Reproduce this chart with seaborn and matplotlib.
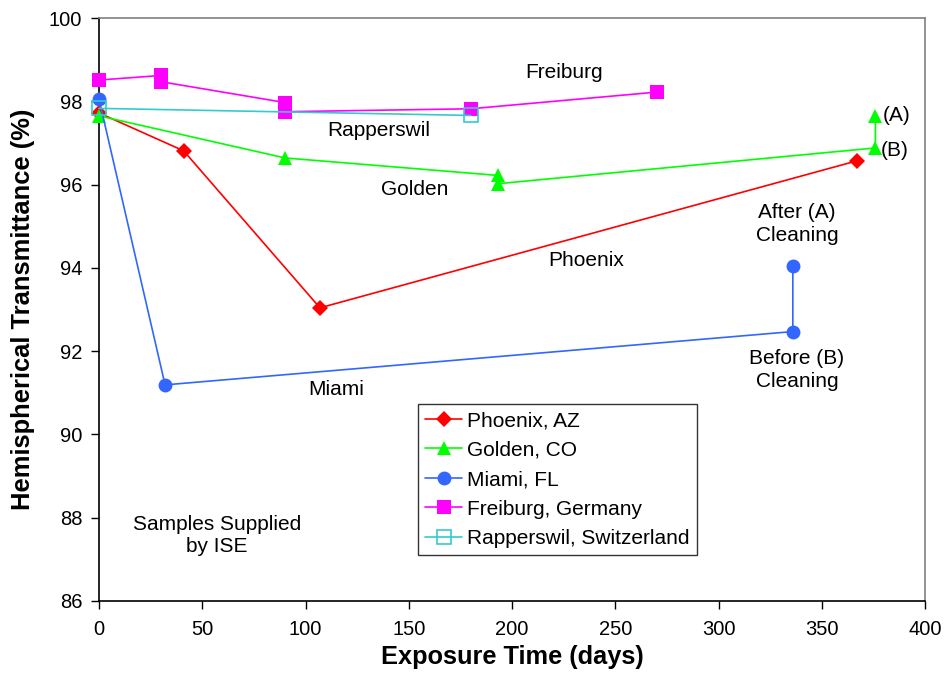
import matplotlib
matplotlib.use("Agg")
import matplotlib.pyplot as plt
import seaborn as sns
import pandas as pd

# ---- data ----
phoenix_days = [0, 41, 107, 367]
phoenix_vals = [97.72, 96.81, 93.04, 96.57]

golden_days = [0, 90, 193, 193, 376, 376]
golden_vals = [97.65, 96.64, 96.22, 96.02, 96.88, 97.65]

miami_days = [0, 32, 336, 336]
miami_vals = [98.05, 91.19, 92.47, 94.05]

freiburg_days = [0, 30, 30, 90, 90, 180, 270]
freiburg_vals = [98.51, 98.62, 98.47, 97.97, 97.75, 97.82, 98.22]

rapperswil_days = [0, 180]
rapperswil_vals = [97.83, 97.66]

series_names = ["Phoenix, AZ", "Golden, CO", "Miami, FL",
                "Freiburg, Germany", "Rapperswil, Switzerland"]

sns.set_theme(style="white")
plt.rcParams['font.family'] = ['Liberation Sans', 'DejaVu Sans']
plt.rcParams['text.color'] = 'black'
plt.rcParams['axes.labelcolor'] = 'black'
plt.rcParams['xtick.color'] = 'black'
plt.rcParams['ytick.color'] = 'black'

fig = plt.figure(figsize=(9.5, 6.81), dpi=100)
ax = fig.add_axes([99/950, 1-601/681, (925-99)/950, (601-18)/681])

styles = [
    (phoenix_days, phoenix_vals, "#FF0000", "D", 8.5, "#FF0000"),
    (golden_days, golden_vals, "#00FF00", "^", 10, "#00FF00"),
    (miami_days, miami_vals, "#3366FF", "o", 10, "#3366FF"),
    (freiburg_days, freiburg_vals, "#FF00FF", "s", 9.5, "#FF00FF"),
    (rapperswil_days, rapperswil_vals, "#33CCCC", "s", 9.5, "none"),
]

for name, (d, v, c, m, ms, fc) in zip(series_names, styles):
    df = pd.DataFrame({"days": d, "val": v})
    sns.lineplot(data=df, x="days", y="val", ax=ax, sort=False, estimator=None,
                 color=c, marker=m, markersize=ms, markerfacecolor=fc,
                 markeredgecolor=c, markeredgewidth=1.2 if fc == "none" else 0,
                 linewidth=1.2, label=name, clip_on=False, zorder=3)

ax.set_xlim(0, 400)
ax.set_ylim(86, 100)
ax.set_xticks(range(0, 401, 50))
ax.set_yticks(range(86, 101, 2))
ax.tick_params(axis='both', which='both', direction='out', length=6, width=1,
               color='black', labelcolor='black', labelsize=14.5, pad=6,
               bottom=True, left=True)
ax.tick_params(axis='x', pad=8)
for s in ['left', 'bottom']:
    ax.spines[s].set_color('black')
    ax.spines[s].set_linewidth(1.2)
for s in ['top', 'right']:
    ax.spines[s].set_color('#808080')
    ax.spines[s].set_linewidth(1.2)

ax.set_xlabel("Exposure Time (days)", fontsize=18.3, fontweight='bold', labelpad=4, color='black')
ax.set_ylabel("Hemispherical Transmittance (%)", fontsize=18.4, fontweight='bold', labelpad=10, color='black')

fs = 15
ax.text(225, 98.7, "Freiburg", fontsize=fs, ha='center', va='center')
ax.text(135.6, 97.29, "Rapperswil", fontsize=fs, ha='center', va='center')
ax.text(153, 95.87, "Golden", fontsize=fs, ha='center', va='center')
ax.text(236, 94.17, "Phoenix", fontsize=fs, ha='center', va='center')
ax.text(115, 91.08, "Miami", fontsize=fs, ha='center', va='center')
ax.text(338, 95.06, "After (A)\nCleaning", fontsize=fs, ha='center', va='center', linespacing=1.25)
ax.text(338, 91.54, "Before (B)\nCleaning", fontsize=fs, ha='center', va='center', linespacing=1.25)
ax.text(379.5, 97.67, "(A)", fontsize=fs, ha='left', va='center')
ax.text(378.5, 96.81, "(B)", fontsize=fs, ha='left', va='center')
ax.text(57, 87.57, "Samples Supplied\nby ISE", fontsize=fs, ha='center', va='center', linespacing=1.25)

leg = ax.legend(loc='upper left', bbox_to_anchor=((418-99)/826, (601-404)/583),
                fontsize=fs, frameon=True, fancybox=False, handlelength=1.75,
                handletextpad=0.25, labelspacing=0.5, borderpad=0.35,
                borderaxespad=0)
leg.get_frame().set_edgecolor('black')
leg.get_frame().set_linewidth(1.0)
for t in leg.get_texts():
    t.set_color('black')

fig.savefig("out.png", dpi=100)
